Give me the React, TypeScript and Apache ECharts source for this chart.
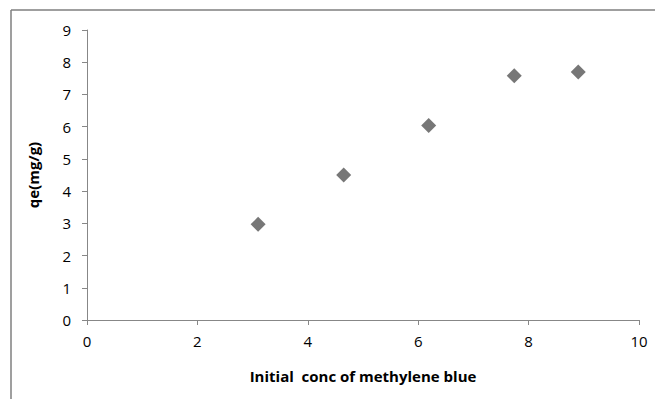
import React, { useEffect, useRef } from "react";
import * as echarts from "echarts";

const xValues = [3.1, 4.65, 6.19, 7.74, 8.9];
const yValues = [2.97, 4.5, 6.04, 7.58, 7.7];
const xTitle = "Initial  conc of methylene blue";
const yTitle = "qe(mg/g)";

export default function App() {
  const ref = useRef<HTMLDivElement>(null);
  useEffect(() => {
    const chart = echarts.init(ref.current!, null, { renderer: "svg" });
    const font = "'Open Sans', 'Liberation Sans', sans-serif";
    chart.setOption({
      animation: false,
      backgroundColor: "#ffffff",
      grid: { left: 87, top: 30, right: 16, bottom: 79 },
      xAxis: {
        type: "value",
        min: 0,
        max: 10,
        interval: 2,
        name: xTitle,
        nameLocation: "middle",
        nameGap: 48,
        nameTextStyle: { fontFamily: font, fontSize: 15, fontWeight: "bold", color: "#000" },
        axisLine: { show: true, lineStyle: { color: "#878787", width: 1 } },
        axisTick: { show: true, inside: false, length: 5, lineStyle: { color: "#878787" } },
        axisLabel: { fontFamily: font, fontSize: 15, color: "#000", margin: 13 },
        splitLine: { show: false },
      },
      yAxis: {
        type: "value",
        min: 0,
        max: 9,
        interval: 1,
        name: yTitle,
        nameLocation: "middle",
        nameGap: 47,
        nameRotate: 90,
        nameTextStyle: { fontFamily: font, fontSize: 15, fontWeight: "bold", color: "#000" },
        axisLine: { show: true, lineStyle: { color: "#878787", width: 1 } },
        axisTick: { show: true, inside: false, length: 5, lineStyle: { color: "#878787" } },
        axisLabel: { fontFamily: font, fontSize: 15, color: "#000", margin: 16 },
        splitLine: { show: false },
      },
      series: [
        {
          type: "scatter",
          data: xValues.map((x, i) => [x, yValues[i]]),
          symbol: "diamond",
          symbolSize: [15, 15],
          itemStyle: { color: "#555555" },
        },
      ],
      graphic: [
        { type: "line", shape: { x1: 11, y1: 10, x2: 11, y2: 399 }, style: { stroke: "#7f7f7f", lineWidth: 1.5 } },
        { type: "line", shape: { x1: 11, y1: 10, x2: 655, y2: 10 }, style: { stroke: "#7f7f7f", lineWidth: 1.5 } },
      ],
    });
    return () => chart.dispose();
  }, []);
  return (
    <div
      ref={ref}
      style={{ position: "fixed", left: 0, top: 0, width: 655, height: 399 }}
    />
  );
}
